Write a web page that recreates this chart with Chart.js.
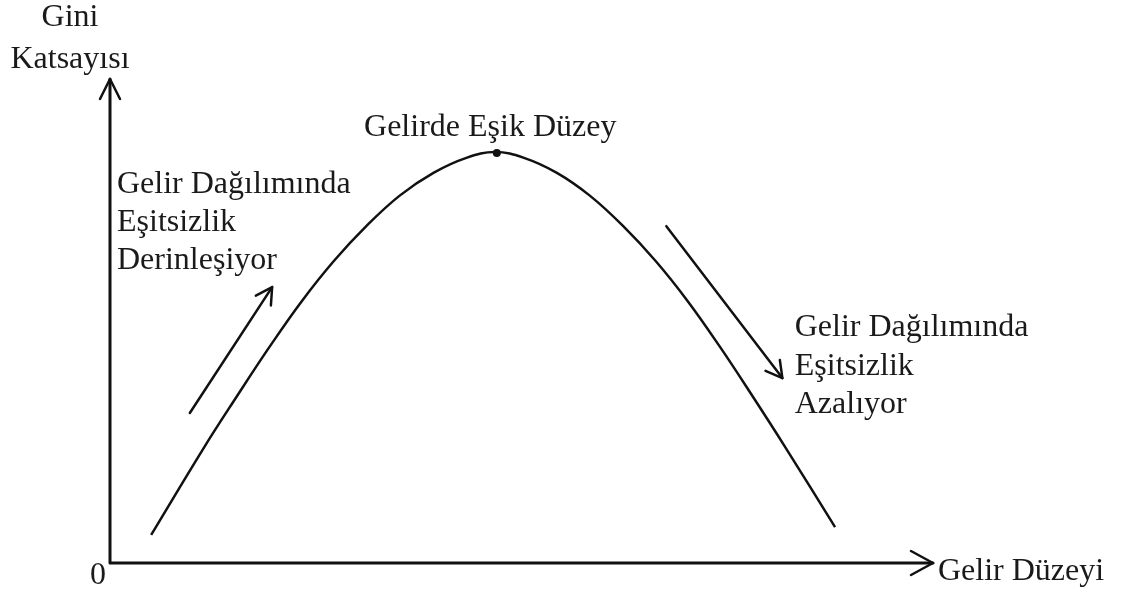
<!DOCTYPE html>
<html>
<head>
<meta charset="utf-8">
<script src="https://cdn.jsdelivr.net/npm/chart.js@4/dist/chart.umd.min.js"></script>
<style>
    html, body { margin: 0; padding: 0; background: #ffffff; }
    #wrap { width: 1121px; height: 594px; }
</style>
</head>
<body>
<div id="wrap"><canvas id="chart"></canvas></div>
<script>
// Kuznets curve (x: income level 0-100, y: gini 0-100)
const curveX = [5.0, 11.4, 15.4, 19.4, 23.3, 27.2, 31.2, 35.2, 39.3, 43.3, 46.8, 50.3, 54.3, 58.3, 62.3, 66.3, 70.2, 74.1, 78.1, 82.1, 88.1];
const curveY = [5.8, 23.8, 34.4, 44.7, 54.1, 62.4, 69.7, 75.9, 80.6, 83.7, 84.9, 83.7, 80.6, 75.9, 69.7, 62.4, 54.1, 44.7, 34.4, 23.8, 7.4];
const peakX = [47.0];
const peakY = [84.7];

// direction arrows beside the curve: [x1, y1, x2, y2]
const upArrow = [9.7, 31.0, 19.7, 57.0];
const downArrow = [67.6, 69.6, 81.7, 38.2];

const axisTitleY = ['Gini', 'Katsayısı'];
const axisTitleX = 'Gelir Düzeyi';
const originLabel = '0';
const peakLabel = 'Gelirde Eşik Düzey';
const risingLabel = ['Gelir Dağılımında', 'Eşitsizlik', 'Derinleşiyor'];
const fallingLabel = ['Gelir Dağılımında', 'Eşitsizlik', 'Azalıyor'];

const ink = '#111111';
const font = '32px "Liberation Serif", "Times New Roman", serif';

function arrowHead(ctx, x1, y1, x2, y2, len, half) {
    const a = Math.atan2(y2 - y1, x2 - x1);
    const bx = x2 - Math.cos(a) * len;
    const by = y2 - Math.sin(a) * len;
    const nx = -Math.sin(a) * half;
    const ny = Math.cos(a) * half;
    ctx.beginPath();
    ctx.moveTo(bx + nx, by + ny);
    ctx.lineTo(x2, y2);
    ctx.lineTo(bx - nx, by - ny);
    ctx.stroke();
}

function drawArrow(ctx, xs, ys, seg, len, half) {
    const x1 = xs.getPixelForValue(seg[0]);
    const y1 = ys.getPixelForValue(seg[1]);
    const x2 = xs.getPixelForValue(seg[2]);
    const y2 = ys.getPixelForValue(seg[3]);
    ctx.beginPath();
    ctx.moveTo(x1, y1);
    ctx.lineTo(x2, y2);
    ctx.stroke();
    arrowHead(ctx, x1, y1, x2, y2, len, half);
}

function drawLines(ctx, lines, x, y, step, align) {
    ctx.textAlign = align;
    lines.forEach((t, i) => ctx.fillText(t, x, y + i * step));
}

const sketchPlugin = {
    id: 'sketch',
    afterDatasetsDraw(chart) {
        const ctx = chart.ctx;
        const xs = chart.scales.x;
        const ys = chart.scales.y;
        const x0 = xs.getPixelForValue(0);
        const y0 = ys.getPixelForValue(0);
        const xEnd = xs.getPixelForValue(100);
        const yEnd = ys.getPixelForValue(100);

        ctx.save();
        ctx.strokeStyle = ink;
        ctx.lineCap = 'round';
        ctx.lineJoin = 'round';

        // axes
        ctx.lineWidth = 3;
        ctx.beginPath();
        ctx.moveTo(x0, yEnd);
        ctx.lineTo(x0, y0);
        ctx.lineTo(xEnd, y0);
        ctx.stroke();
        ctx.lineWidth = 2.5;
        arrowHead(ctx, x0, y0, x0, yEnd, 20, 10);
        arrowHead(ctx, x0, y0, xEnd, y0, 22, 12);

        // direction arrows
        ctx.lineWidth = 2.5;
        drawArrow(ctx, xs, ys, upArrow, 16, 9);
        drawArrow(ctx, xs, ys, downArrow, 16, 9);

        // texts
        ctx.fillStyle = '#1a1a1a';
        ctx.font = font;
        ctx.textBaseline = 'middle';
        drawLines(ctx, axisTitleY, x0 - 40, ys.getPixelForValue(112.6), 42, 'center');
        ctx.textAlign = 'center';
        ctx.fillText(originLabel, x0 - 12, y0 + 13);
        ctx.textAlign = 'left';
        ctx.fillText(axisTitleX, xEnd + 5, y0 + 9);
        ctx.textAlign = 'center';
        ctx.fillText(peakLabel, xs.getPixelForValue(46.2), ys.getPixelForValue(89.9));
        drawLines(ctx, risingLabel, xs.getPixelForValue(0.85), ys.getPixelForValue(78.1), 38, 'left');
        drawLines(ctx, fallingLabel, xs.getPixelForValue(83.2), ys.getPixelForValue(48.6), 38.5, 'left');
        ctx.restore();
    }
};

function createCurveChart(canvas) {
    const data = {
        datasets: [
            {
                label: 'Kuznets',
                data: curveX.map((x, i) => ({ x: x, y: curveY[i] })),
                borderColor: ink,
                borderWidth: 2.5,
                pointRadius: 0,
                tension: 0.4,
                fill: false
            },
            {
                label: 'Eşik',
                data: peakX.map((x, i) => ({ x: x, y: peakY[i] })),
                showLine: false,
                pointRadius: 4,
                pointBackgroundColor: ink,
                pointBorderColor: ink,
                pointBorderWidth: 0
            }
        ]
    };

    const config = {
        type: 'line',
        data: data,
        options: {
            responsive: true,
            maintainAspectRatio: false,
            animation: false,
            layout: {
                padding: { left: 110, right: 188, top: 79, bottom: 31 }
            },
            scales: {
                x: { type: 'linear', min: 0, max: 100, display: false },
                y: { type: 'linear', min: 0, max: 100, display: false }
            },
            plugins: {
                legend: { display: false },
                tooltip: { enabled: false }
            }
        },
        plugins: [sketchPlugin]
    };

    return new Chart(canvas, config);
}

createCurveChart(document.getElementById('chart'));
</script>
</body>
</html>
